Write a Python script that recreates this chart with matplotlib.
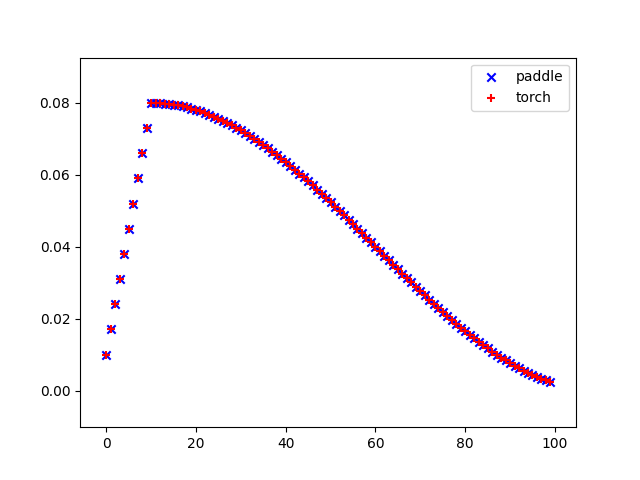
import matplotlib
matplotlib.use("Agg")
from matplotlib import pyplot as plt

# learning rate per step (warmup then decay)
steps = list(range(100))
lr_paddle = [
    0.010, 0.017, 0.024, 0.031, 0.038, 0.045, 0.052, 0.059, 0.066, 0.073,
    0.08000, 0.07998, 0.07992, 0.07982, 0.07968, 0.07951, 0.07929, 0.07904, 0.07874, 0.07841,
    0.07804, 0.07764, 0.07719, 0.07671, 0.07619, 0.07564, 0.07505, 0.07443, 0.07377, 0.07308,
    0.07236, 0.07161, 0.07082, 0.07000, 0.06916, 0.06828, 0.06738, 0.06645, 0.06550, 0.06452,
    0.06351, 0.06248, 0.06143, 0.06036, 0.05927, 0.05816, 0.05703, 0.05589, 0.05472, 0.05355,
    0.05236, 0.05116, 0.04995, 0.04873, 0.04750, 0.04626, 0.04501, 0.04376, 0.04251, 0.04126,
    0.04000, 0.03874, 0.03749, 0.03624, 0.03499, 0.03374, 0.03250, 0.03127, 0.03005, 0.02884,
    0.02764, 0.02645, 0.02528, 0.02411, 0.02297, 0.02184, 0.02073, 0.01964, 0.01857, 0.01752,
    0.01649, 0.01548, 0.01450, 0.01355, 0.01262, 0.01172, 0.01084, 0.01000, 0.00918, 0.00839,
    0.00764, 0.00692, 0.00623, 0.00557, 0.00495, 0.00436, 0.00381, 0.00329, 0.00281, 0.00236,
]
lr_torch = list(lr_paddle)

plt.figure(figsize=(6.4, 4.8), dpi=100)
plt.scatter(steps, lr_paddle, marker='x', color='blue', label='paddle')
plt.scatter(steps, lr_torch, marker='+', color='red', label='torch')
plt.xlim(-5.85, 104.7)
plt.ylim(-0.0102, 0.0926)
plt.legend(loc='upper right')
plt.savefig('out.png')
